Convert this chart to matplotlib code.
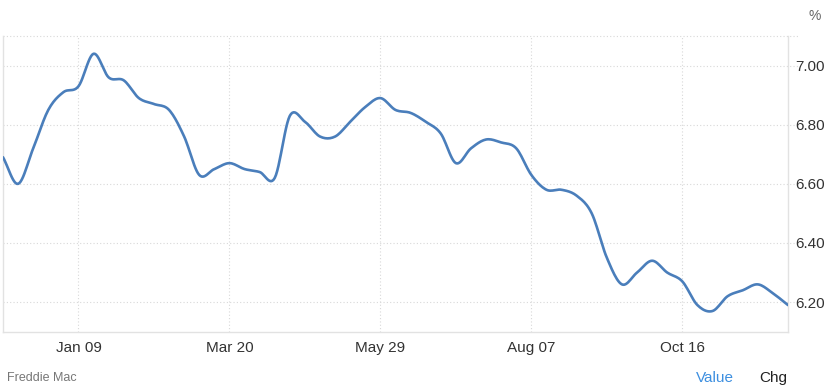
import numpy as np
import pandas as pd
import matplotlib
matplotlib.use("Agg")
import matplotlib.pyplot as plt
import matplotlib.dates as mdates

# Freddie Mac 30-yr fixed, weekly, Dec 2024 - Dec 2025
dates = pd.date_range("2024-12-05", periods=53, freq="7D")
rates = [6.69, 6.60, 6.72, 6.85, 6.91, 6.93, 7.04, 6.96, 6.95, 6.89,
         6.87, 6.85, 6.76, 6.63, 6.65, 6.67, 6.65, 6.64, 6.62, 6.83,
         6.81, 6.76, 6.76, 6.81, 6.86, 6.89, 6.85, 6.84, 6.81, 6.77,
         6.67, 6.72, 6.75, 6.74, 6.72, 6.63, 6.58, 6.58, 6.56, 6.50,
         6.35, 6.26, 6.30, 6.34, 6.30, 6.27, 6.19, 6.17, 6.22, 6.24,
         6.26, 6.23, 6.19]
tick_dates = ["2025-01-09", "2025-03-20", "2025-05-29", "2025-08-07", "2025-10-16"]
y_ticks = [6.20, 6.40, 6.60, 6.80, 7.00]

plt.rcParams['font.family'] = ['Liberation Sans', 'DejaVu Sans']

x = mdates.date2num(dates.to_pydatetime())
y = np.array(rates)

# catmull-rom smoothing for the drawn line (like the web chart's spline)
def smooth(x, y, n=12):
    xs, ys = [], []
    for i in range(len(x) - 1):
        x0, x1 = x[i], x[i + 1]
        y0, y1 = y[i], y[i + 1]
        m0 = (y[i + 1] - y[i - 1]) / (x[i + 1] - x[i - 1]) if i > 0 else (y1 - y0) / (x1 - x0)
        m1 = (y[i + 2] - y[i]) / (x[i + 2] - x[i]) if i + 2 < len(x) else (y1 - y0) / (x1 - x0)
        h = x1 - x0
        t = np.linspace(0, 1, n, endpoint=False)
        h00 = 2 * t**3 - 3 * t**2 + 1
        h10 = t**3 - 2 * t**2 + t
        h01 = -2 * t**3 + 3 * t**2
        h11 = t**3 - t**2
        xs.append(x0 + t * h)
        ys.append(h00 * y0 + h10 * h * m0 + h01 * y1 + h11 * h * m1)
    xs.append([x[-1]])
    ys.append([y[-1]])
    return np.concatenate(xs), np.concatenate(ys)

sx, sy = smooth(x, y)

fig = plt.figure(figsize=(8.31, 3.90), dpi=100)
ax = fig.add_axes([3 / 831, 1 - 331.7 / 390, 785 / 831, (331.7 - 36) / 390])

ax.plot(sx, sy, color='#4a7ebb', linewidth=1.9, solid_capstyle='round', zorder=3)

ax.set_xlim(x[0], x[-1])
ax.set_ylim(6.10, 7.10)

grid_c = '#d8d8d8'
for v in y_ticks + [7.10]:
    ax.plot([0, 1.013], [v, v], transform=ax.get_yaxis_transform(), color=grid_c,
            linestyle=(0, (1, 2)), linewidth=0.8, clip_on=False, zorder=1)
ticks = mdates.date2num(pd.to_datetime(tick_dates).to_pydatetime())
for t in ticks:
    ax.axvline(t, color=grid_c, linestyle=(0, (1, 2)), linewidth=0.8, zorder=1)

ax.set_xticks(ticks)
ax.xaxis.set_major_formatter(mdates.DateFormatter('%b %d'))
ax.yaxis.tick_right()
ax.set_yticks(y_ticks)
ax.set_yticklabels([f"{v:.2f}" for v in y_ticks])
ax.tick_params(axis='both', length=0, labelsize=11, colors='#333333')
ax.tick_params(axis='y', pad=5)
ax.tick_params(axis='x', pad=7)

for s in ['left', 'right', 'bottom']:
    ax.spines[s].set_color('#e2e2e2')
    ax.spines[s].set_linewidth(1)
ax.spines['top'].set_visible(False)

fig.text(815 / 831, 1 - 16 / 390, '%', fontsize=10, color='#666666', ha='center', va='center')
fig.text(7 / 831, 1 - 378 / 390, 'Freddie Mac', fontsize=9, color='#777777', ha='left', va='center')
fig.text(715 / 831, 1 - 378 / 390, 'Value', fontsize=11, color='#3d8fe0', ha='center', va='center')
fig.text(773 / 831, 1 - 378 / 390, 'Chg', fontsize=11, color='#222222', ha='center', va='center')

fig.savefig('out.png', dpi=100)
